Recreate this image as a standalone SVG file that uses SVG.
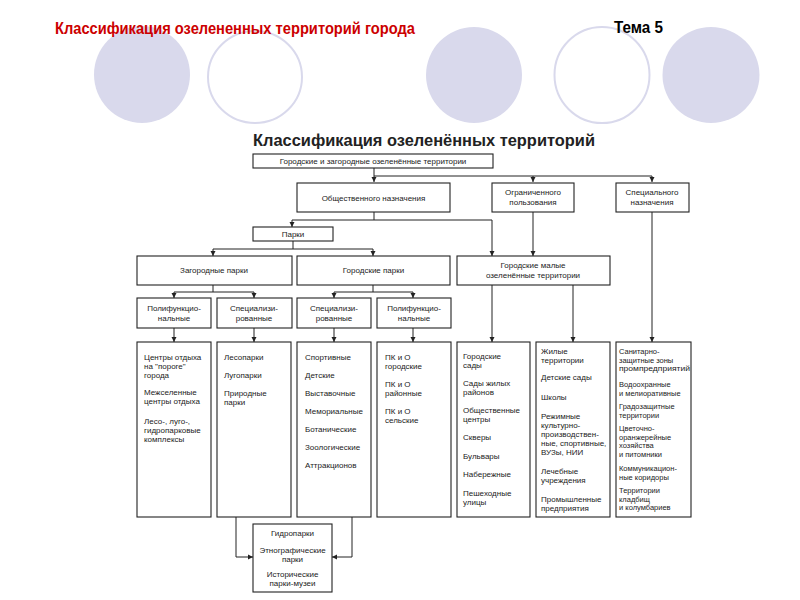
<svg xmlns="http://www.w3.org/2000/svg" width="800" height="600" viewBox="0 0 800 600">
<style>
.bg{fill:#ffffff}
.cf{fill:#d9d9ec}
.co{fill:#ffffff;stroke:#d9d9ec;stroke-width:2}
.box{fill:#ffffff;stroke:#222;stroke-width:1.1}
.t{font-family:"Liberation Sans",Arial,sans-serif;font-size:8px;fill:#222}
.s{font-size:7.5px}
.c{text-anchor:middle}
.ln{fill:none;stroke:#222;stroke-width:1}
</style>
<defs>
<marker id="ah" markerUnits="userSpaceOnUse" markerWidth="6" markerHeight="6" refX="5" refY="3" orient="auto">
<path d="M0,0.5 L5,3 L0,5.5 Z" fill="#222"/>
</marker>
</defs>
<rect class="bg" width="800" height="600"/>
<g id="decor">
<ellipse class="cf" cx="142" cy="74.5" rx="48" ry="48.5"/>
<ellipse class="co" cx="255" cy="77" rx="47" ry="46"/>
<ellipse class="cf" cx="474" cy="75" rx="48" ry="48"/>
<ellipse class="co" cx="602" cy="75" rx="47.5" ry="48"/>
<ellipse class="cf" cx="711" cy="75" rx="48.5" ry="48"/>
</g>
<g id="titles">
<text x="55" y="34" font-family="'Liberation Sans',Arial,sans-serif" font-size="16" font-weight="bold" fill="#cc0000" textLength="360" lengthAdjust="spacingAndGlyphs">Классификация озелененных территорий города</text>
<text x="614" y="33" font-family="'Liberation Sans',Arial,sans-serif" font-size="16" font-weight="bold" fill="#000" textLength="49" lengthAdjust="spacingAndGlyphs">Тема 5</text>
<text x="253" y="146" font-family="'Liberation Sans',Arial,sans-serif" font-size="17" font-weight="bold" fill="#222" textLength="342" lengthAdjust="spacingAndGlyphs">Классификация озеленённых территорий</text>
</g>
<g id="connectors" class="ln">
<path d="M374,168 V182" marker-end="url(#ah)"/>
<path d="M374,176 H652 V182" marker-end="url(#ah)"/>
<path d="M533,176 V182" marker-end="url(#ah)"/>
<path d="M374,212 V220 H292 V227" marker-end="url(#ah)"/>
<path d="M374,220 H492 V256" marker-end="url(#ah)"/>
<path d="M533,212 V256" marker-end="url(#ah)"/>
<path d="M652,212 V342" marker-end="url(#ah)"/>
<path d="M293,241 V249 H213 V256" marker-end="url(#ah)"/>
<path d="M293,249 H373 V256" marker-end="url(#ah)"/>
<path d="M213,285 V292 H174 V298" marker-end="url(#ah)"/>
<path d="M213,292 H254 V298" marker-end="url(#ah)"/>
<path d="M373,285 V292 H334 V298" marker-end="url(#ah)"/>
<path d="M373,292 H413 V298" marker-end="url(#ah)"/>
<path d="M174,328 V342" marker-end="url(#ah)"/>
<path d="M254,328 V342" marker-end="url(#ah)"/>
<path d="M334,328 V342" marker-end="url(#ah)"/>
<path d="M413,328 V342" marker-end="url(#ah)"/>
<path d="M492,285 V342" marker-end="url(#ah)"/>
<path d="M573,285 V342" marker-end="url(#ah)"/>
<path d="M236,517 V557 H253" marker-end="url(#ah)"/>
<path d="M352,517 V557 H332" marker-end="url(#ah)"/>
</g>
<g id="n-root"><rect class="box" x="253" y="154" width="240" height="14"/><text class="t c" x="373" y="164">Городские и загородные озеленённые территории</text></g>
<g id="n-public"><rect class="box" x="297" y="183" width="153" height="29"/><text class="t c" x="373.5" y="200.5">Общественного назначения</text></g>
<g id="n-limited"><rect class="box" x="492" y="183" width="82" height="29"/><text class="t c" x="533" y="195">Ограниченного</text><text class="t c" x="533" y="205">пользования</text></g>
<g id="n-special"><rect class="box" x="616" y="183" width="73" height="29"/><text class="t c" x="652" y="195">Специального</text><text class="t c" x="652" y="205">назначения</text></g>
<g id="n-parks"><rect class="box" x="253" y="227" width="80" height="14"/><text class="t c" x="293" y="237">Парки</text></g>
<g id="n-suburban"><rect class="box" x="137" y="256" width="155" height="29"/><text class="t c" x="214" y="273">Загородные парки</text></g>
<g id="n-city"><rect class="box" x="297" y="256" width="153" height="29"/><text class="t c" x="373.5" y="273">Городские парки</text></g>
<g id="n-small"><rect class="box" x="457" y="256" width="153" height="29"/><text class="t c" x="533" y="268">Городские малые</text><text class="t c" x="533" y="278">озеленённые территории</text></g>
<g id="n-sub-poly"><rect class="box" x="137" y="298" width="74" height="30"/><text class="t c" x="174" y="311">Полифункцио-</text><text class="t c" x="174" y="321">нальные</text></g>
<g id="n-sub-spec"><rect class="box" x="217" y="298" width="75" height="30"/><text class="t c" x="254" y="311">Специализи-</text><text class="t c" x="254" y="321">рованные</text></g>
<g id="n-city-spec"><rect class="box" x="297" y="298" width="74" height="30"/><text class="t c" x="334" y="311">Специализи-</text><text class="t c" x="334" y="321">рованные</text></g>
<g id="n-city-poly"><rect class="box" x="377" y="298" width="74" height="30"/><text class="t c" x="414" y="311">Полифункцио-</text><text class="t c" x="414" y="321">нальные</text></g>
<g id="n-l1"><rect class="box" x="137" y="342" width="74" height="175"/>
<text class="t" x="144" y="360">Центры отдыха</text><text class="t" x="144" y="369">на "пороге"</text><text class="t" x="144" y="378">города</text>
<text class="t" x="144" y="395">Межселенные</text><text class="t" x="144" y="404">центры отдыха</text>
<text class="t" x="144" y="424">Лесо-, луго-,</text><text class="t" x="144" y="433">гидропарковые</text><text class="t" x="144" y="442">комплексы</text></g>
<g id="n-l2"><rect class="box" x="217" y="342" width="74" height="175"/>
<text class="t" x="224" y="360">Лесопарки</text><text class="t" x="224" y="378">Лугопарки</text><text class="t" x="224" y="396">Природные</text><text class="t" x="224" y="405">парки</text></g>
<g id="n-l3"><rect class="box" x="297" y="342" width="74" height="175"/>
<text class="t" x="305" y="360">Спортивные</text><text class="t" x="305" y="378">Детские</text><text class="t" x="305" y="396">Выставочные</text><text class="t" x="305" y="414">Мемориальные</text><text class="t" x="305" y="432">Ботанические</text><text class="t" x="305" y="450">Зоологические</text><text class="t" x="305" y="468">Аттракционов</text></g>
<g id="n-l4"><rect class="box" x="377" y="342" width="74" height="175"/>
<text class="t" x="385" y="360">ПК и О</text><text class="t" x="385" y="369">городские</text><text class="t" x="385" y="387">ПК и О</text><text class="t" x="385" y="396">районные</text><text class="t" x="385" y="414">ПК и О</text><text class="t" x="385" y="423">сельские</text></g>
<g id="n-l5"><rect class="box" x="457" y="342" width="73" height="175"/>
<text class="t" x="463" y="359">Городские</text><text class="t" x="463" y="368">сады</text><text class="t" x="463" y="386">Сады жилых</text><text class="t" x="463" y="395">районов</text><text class="t" x="463" y="413">Общественные</text><text class="t" x="463" y="422">центры</text><text class="t" x="463" y="440">Скверы</text><text class="t" x="463" y="459">Бульвары</text><text class="t" x="463" y="477">Набережные</text><text class="t" x="463" y="496">Пешеходные</text><text class="t" x="463" y="505">улицы</text></g>
<g id="n-l6"><rect class="box" x="536" y="342" width="74" height="175"/>
<text class="t" x="541" y="354">Жилые</text><text class="t" x="541" y="363">территории</text><text class="t" x="541" y="380">Детские сады</text><text class="t" x="541" y="400">Школы</text><text class="t" x="541" y="419">Режимные</text><text class="t" x="541" y="428">культурно-</text><text class="t" x="541" y="437">производствен-</text><text class="t" x="541" y="446">ные, спортивные,</text><text class="t" x="541" y="455">ВУЗы, НИИ</text><text class="t" x="541" y="474">Лечебные</text><text class="t" x="541" y="483">учреждения</text><text class="t" x="541" y="502">Промышленные</text><text class="t" x="541" y="511">предприятия</text></g>
<g id="n-l7"><rect class="box" x="616" y="342" width="75" height="175"/>
<text class="t s" x="619" y="354">Санитарно-</text><text class="t s" x="619" y="362.5">защитные зоны</text><text class="t s" x="619" y="371" textLength="71" lengthAdjust="spacingAndGlyphs">промпредприятий</text><text class="t s" x="619" y="387">Водоохранные</text><text class="t s" x="619" y="395.5">и мелиоративные</text><text class="t s" x="619" y="409">Градозащитные</text><text class="t s" x="619" y="417.5">территории</text><text class="t s" x="619" y="431">Цветочно-</text><text class="t s" x="619" y="439.5">оранжерейные</text><text class="t s" x="619" y="448">хозяйства</text><text class="t s" x="619" y="456.5">и питомники</text><text class="t s" x="619" y="471">Коммуникацион-</text><text class="t s" x="619" y="479.5">ные коридоры</text><text class="t s" x="619" y="493">Территории</text><text class="t s" x="619" y="501.5">кладбищ</text><text class="t s" x="619" y="510">и колумбариев</text></g>
<g id="n-hydro"><rect class="box" x="253" y="524" width="79" height="68"/>
<text class="t c" x="292.5" y="536">Гидропарки</text><text class="t c" x="292.5" y="553">Этнографические</text><text class="t c" x="292.5" y="562">парки</text><text class="t c" x="292.5" y="577">Исторические</text><text class="t c" x="292.5" y="586">парки-музеи</text></g>
</svg>
